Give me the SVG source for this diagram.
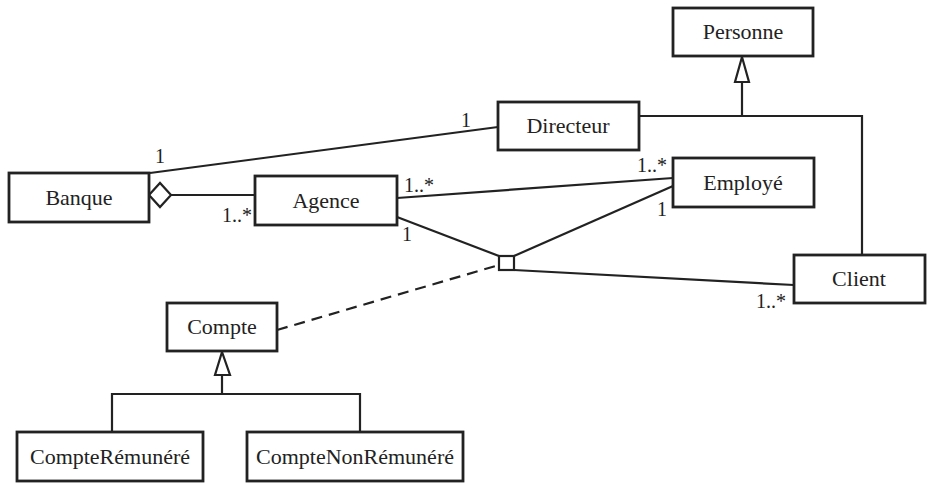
<svg xmlns="http://www.w3.org/2000/svg" width="928" height="483" viewBox="0 0 928 483">
<style>
.box{fill:#fff;stroke:#222;stroke-width:2.8}
.ln{fill:none;stroke:#222;stroke-width:2.2}
.dash{fill:none;stroke:#222;stroke-width:2.2;stroke-dasharray:11 7}
.hd{fill:#fff;stroke:#222;stroke-width:2.2}
.t{font-family:"Liberation Serif","Times New Roman",serif;font-size:22px;fill:#222;text-anchor:middle}
.m{font-family:"Liberation Serif","Times New Roman",serif;font-size:20px;fill:#222}
</style>
<rect width="928" height="483" fill="#fff"/>
<g id="connectors">
<line class="ln" x1="150" y1="173" x2="498" y2="127"/>
<line class="ln" x1="171" y1="195" x2="255" y2="195"/>
<polyline class="ln" points="639,116 862,116 862,255"/>
<line class="ln" x1="742" y1="82" x2="742" y2="116"/>
<polygon class="hd" points="742,57 735,82 749,82"/>
<polygon class="hd" points="149,195 160,183 171,195 160,207"/>
<line class="ln" x1="397" y1="198" x2="673" y2="178"/>
<line class="ln" x1="397" y1="217" x2="499" y2="256"/>
<line class="ln" x1="514" y1="256" x2="673" y2="186"/>
<line class="ln" x1="514" y1="270" x2="794" y2="285"/>
<rect class="hd" x="499" y="256" width="15" height="14"/>
<line class="dash" x1="277" y1="330" x2="499" y2="265"/>
<line class="ln" x1="222" y1="375" x2="222" y2="394"/>
<polyline class="ln" points="112,432 112,394 360,394 360,432"/>
<polygon class="hd" points="222,352 215,375 230,375"/>
<text class="m" x="155" y="163">1</text>
<text class="m" x="461" y="127">1</text>
<text class="m" x="222" y="222">1..*</text>
<text class="m" x="404" y="192">1..*</text>
<text class="m" x="637" y="172">1..*</text>
<text class="m" x="402" y="241">1</text>
<text class="m" x="657" y="216">1</text>
<text class="m" x="756" y="308">1..*</text>
</g>
<g id="Personne"><rect class="box" x="673" y="8" width="140" height="48"/><text class="t" x="743" y="39">Personne</text></g>
<g id="Directeur"><rect class="box" x="498" y="102" width="141" height="48"/><text class="t" x="568" y="133">Directeur</text></g>
<g id="Employe"><rect class="box" x="673" y="158" width="141" height="49"/><text class="t" x="743" y="190">Employé</text></g>
<g id="Banque"><rect class="box" x="9" y="173" width="140" height="49"/><text class="t" x="79" y="205">Banque</text></g>
<g id="Agence"><rect class="box" x="255" y="176" width="142" height="49"/><text class="t" x="326" y="208">Agence</text></g>
<g id="Client"><rect class="box" x="794" y="255" width="131" height="48"/><text class="t" x="859" y="286">Client</text></g>
<g id="Compte"><rect class="box" x="167" y="303" width="110" height="48"/><text class="t" x="222" y="334">Compte</text></g>
<g id="CompteRemunere"><rect class="box" x="17" y="432" width="186" height="49"/><text class="t" x="110" y="464">CompteRémunéré</text></g>
<g id="CompteNonRemunere"><rect class="box" x="247" y="432" width="216" height="49"/><text class="t" x="355" y="464">CompteNonRémunéré</text></g>
</svg>
